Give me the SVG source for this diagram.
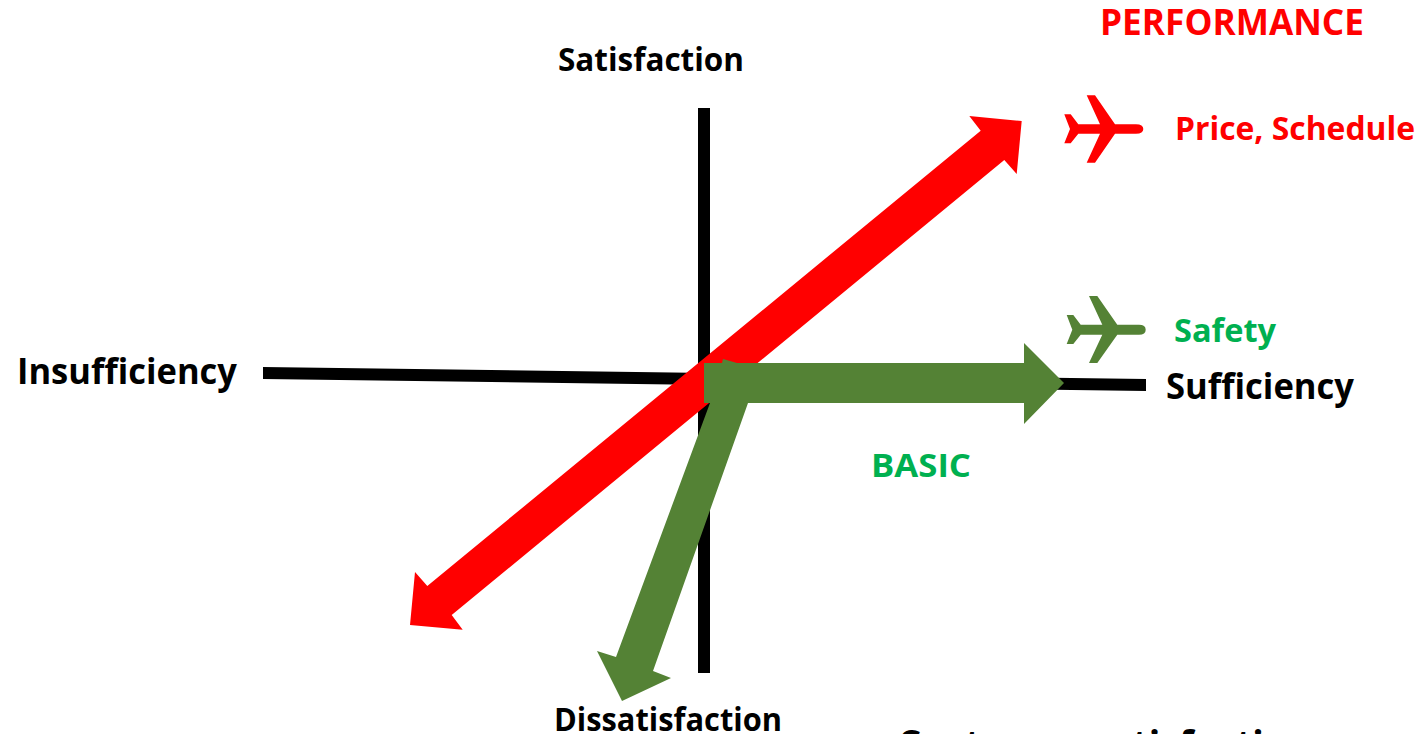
<svg xmlns="http://www.w3.org/2000/svg" width="1420" height="734" viewBox="0 0 1420 734">
<style>
text{font-family:"Open Sans","Noto Sans","Liberation Sans",sans-serif;font-weight:700}
.k{fill:#000}.r{fill:#f00}.g{fill:#00b050}.dg{fill:#548235}
</style>
<rect width="1420" height="734" fill="#fff"/>
<g id="connectors">
<polygon points="698,108 710,108 710,673 698,673" fill="#000"/>
<polygon points="263,367 1146,379 1146,391 263,379" fill="#000"/>
<polygon class="r" points="1021.7,121 1016.7,174 1004.3,160 451.7,615 462.7,629.7 410,625 415,572 427.3,586 980.7,130.7 969.3,116"/>
<polygon class="dg" points="704,363 722,363 723,359 737,363 1024,363 1024,343 1064,383 1024,424 1024,403 748,403 653,671 671,678 622,701 597,651 616,657 710,403 704,403"/>
</g>
<g id="satisfaction"><text class="k" x="558" y="71" font-size="32" textLength="186" lengthAdjust="spacingAndGlyphs">Satisfaction</text></g>
<g id="dissatisfaction"><text class="k" x="554" y="731" font-size="32" textLength="228" lengthAdjust="spacingAndGlyphs">Dissatisfaction</text></g>
<g id="insufficiency"><text class="k" x="17" y="384" font-size="35" textLength="220" lengthAdjust="spacingAndGlyphs">Insufficiency</text></g>
<g id="sufficiency"><text class="k" x="1166" y="399" font-size="35" textLength="188" lengthAdjust="spacingAndGlyphs">Sufficiency</text></g>
<g id="performance"><text class="r" x="1100" y="34.5" font-size="35" textLength="264" lengthAdjust="spacingAndGlyphs">PERFORMANCE</text></g>
<g id="price-schedule"><path class="r" d="M1064.3 114.3H1070.7L1078.3 124.3H1100L1086.7 95.3H1095L1115 124.3H1136Q1143.3 124.3 1143.3 129T1136 133.7H1115L1095 162.7H1086.7L1100 133.7H1078.3L1070.7 143.3H1064.3L1070 129Z"/>
<text class="r" x="1175" y="140" font-size="32" textLength="240" lengthAdjust="spacingAndGlyphs">Price, Schedule</text></g>
<g id="safety"><path class="dg" d="M1066.7 315H1073.3L1080.7 324.7H1102.3L1089 296H1097.3L1117.3 324.7H1139Q1145.7 324.7 1145.7 329.7T1139 334.7H1117.3L1097.3 363H1089L1102.3 334.7H1080.7L1073.3 344H1066.7L1072.3 329.7Z"/>
<text class="g" x="1174" y="342" font-size="32" textLength="102" lengthAdjust="spacingAndGlyphs">Safety</text></g>
<g id="basic"><text class="g" x="871" y="477" font-size="33" textLength="100" lengthAdjust="spacingAndGlyphs">BASIC</text></g>
<g id="customer-satisfaction"><text class="k" x="897" y="760" font-size="42" textLength="415" lengthAdjust="spacingAndGlyphs">Customer satisfaction</text></g>
</svg>
